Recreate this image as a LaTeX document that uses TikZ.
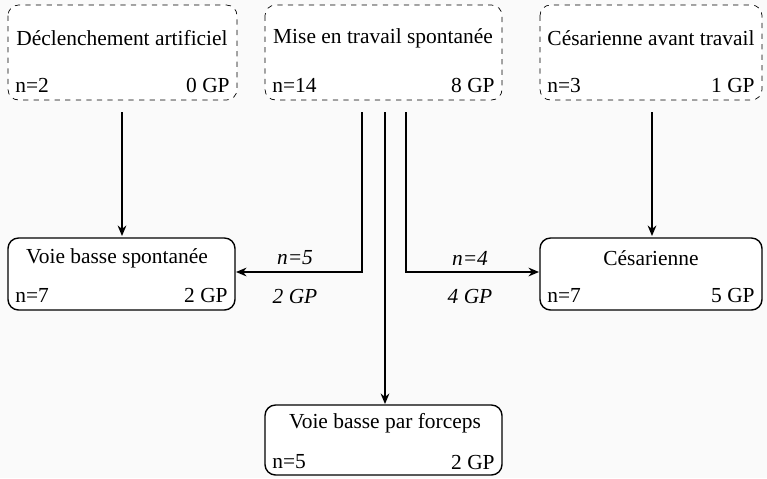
\documentclass[tikz,border=0pt]{standalone}
\usepackage{fontspec}
\setmainfont{Liberation Serif}
\usetikzlibrary{arrows.meta}
\usetikzlibrary{positioning}
\begin{document}
\begin{tikzpicture}[x=0.02cm,y=-0.02cm,font=\fontsize{12.2}{14}\selectfont,
  every node/.style={inner sep=0pt},
  planbox/.style={draw,dashed,rounded corners=6pt,fill=white},
  issuebox/.style={draw,thick,rounded corners=6pt,fill=white},
  >={Stealth[length=6pt,width=5pt]}]
  \fill[gray!4] (0,0) rectangle (767,478);
  % start of labour
  \draw[planbox] (8,5) rectangle (237,100);
  \draw[planbox] (265,5) rectangle (502,100);
  \draw[planbox] (540,5) rectangle (762,100);
  \node (ind) at (122,38) {Déclenchement artificiel};
  \node[anchor=west] at (15,85) {n=2};
  \node[anchor=east] at (230,85) {0 GP};
  \node (spo) at (383,38) {Mise en travail spontanée};
  \node[anchor=west] at (272,85) {n=14};
  \node[anchor=east] at (495,85) {8 GP};
  \node (csa) at (651,38) {Césarienne avant travail};
  \node[anchor=west] at (547,85) {n=3};
  \node[anchor=east] at (755,85) {1 GP};
  % outcomes
  \draw[issuebox] (8,238) rectangle (235,310);
  \draw[issuebox] (540,238) rectangle (762,310);
  \draw[issuebox] (265,405) rectangle (502,475);
  \node (vbs) at (117,258) {Voie basse spontanée};
  \node[anchor=west] at (15,295) {n=7};
  \node[anchor=east] at (228,295) {2 GP};
  \node (ces) at (651,258) {Césarienne};
  \node[anchor=west] at (547,295) {n=7};
  \node[anchor=east] at (755,295) {5 GP};
  \node (vbf) at (385,423) {Voie basse par forceps};
  \node[anchor=west] at (272,462) {n=5};
  \node[anchor=east] at (495,462) {2 GP};
  % connectors
  \coordinate (a1) at (122,112); \coordinate (a2) at (122,236);
  \coordinate (b1) at (652,112); \coordinate (b2) at (652,236);
  \coordinate (c1) at (362,112); \coordinate (c2) at (236,272);
  \coordinate (d1) at (406,112); \coordinate (d2) at (539,272);
  \coordinate (e1) at (385,112); \coordinate (e2) at (385,404);
  \draw[thick,->] (a1) -- (a2);
  \draw[thick,->] (b1) -- (b2);
  \draw[thick,->] (c1) |- (c2);
  \draw[thick,->] (d1) |- (d2);
  \draw[thick,->] (e1) -- (e2);
  \node (l1) at (295,258) {\itshape n=5};
  \node (l2) at (295,296) {\itshape 2 GP};
  \node (l3) at (470,258) {\itshape n=4};
  \node (l4) at (470,296) {\itshape 4 GP};
\end{tikzpicture}
\end{document}
